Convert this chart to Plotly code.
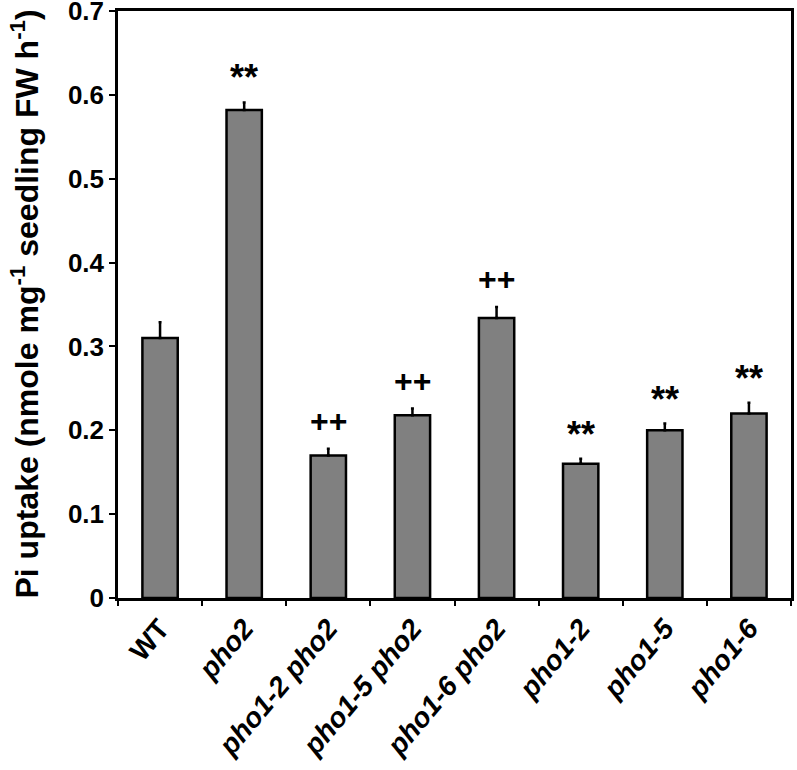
import plotly.graph_objects as go

categories = ["WT", "pho2", "pho1-2 pho2", "pho1-5 pho2", "pho1-6 pho2", "pho1-2", "pho1-5", "pho1-6"]
tick_labels = ["<b>WT</b>", "<b><i>pho2</i></b>", "<b><i>pho1-2 pho2</i></b>", "<b><i>pho1-5 pho2</i></b>",
               "<b><i>pho1-6 pho2</i></b>", "<b><i>pho1-2</i></b>", "<b><i>pho1-5</i></b>", "<b><i>pho1-6</i></b>"]
values = [0.310, 0.582, 0.170, 0.218, 0.334, 0.160, 0.200, 0.220]
errors = [0.019, 0.009, 0.008, 0.008, 0.013, 0.006, 0.008, 0.013]
marks = ["", "**", "++", "++", "++", "**", "**", "**"]
y_ticks = [0, 0.1, 0.2, 0.3, 0.4, 0.5, 0.6, 0.7]
y_tick_text = ["0", "0.1", "0.2", "0.3", "0.4", "0.5", "0.6", "0.7"]

FONT = "Liberation Sans, Arial, sans-serif"

fig = go.Figure()
fig.add_trace(go.Bar(
    x=categories, y=values,
    marker=dict(color="#808080", line=dict(color="black", width=2.5)),
    error_y=dict(type="data", symmetric=False, array=errors, arrayminus=[0]*len(errors),
                 color="black", thickness=2.5, width=1.5),
    width=0.42,
))

for c, v, e, m in zip(categories, values, errors, marks):
    if m:
        star = m == "**"
        fig.add_annotation(x=c, y=v + e, text="<b>" + m + "</b>", showarrow=False,
                           yanchor="bottom", yshift=2 if star else 8,
                           font=dict(family=FONT, size=36 if star else 32, color="black"))

fig.add_annotation(
    xref="paper", yref="paper", x=0, y=0.5, xanchor="center", yanchor="middle",
    xshift=-94, textangle=-90, showarrow=False,
    text="<b>Pi uptake (nmole mg<sup>-1</sup> seedling FW h<sup>-1</sup>)</b>",
    font=dict(family=FONT, size=32, color="black"),
)

fig.update_layout(
    width=797, height=770,
    margin=dict(l=118, r=6, t=11, b=172),
    plot_bgcolor="white", paper_bgcolor="white",
    showlegend=False,
    font=dict(family=FONT, color="black"),
)
fig.update_xaxes(
    tickmode="array", tickvals=categories, ticktext=tick_labels, tickangle=-50,
    tickfont=dict(family=FONT, size=28, color="black"),
    showline=True, linecolor="black", linewidth=2.5, mirror=True,
    ticks="outside", ticklen=5, tickwidth=1.5, tickcolor="black", tickson="boundaries",
    showgrid=False, automargin=False, ticklabeloverflow="allow",
)
fig.update_yaxes(
    range=[0, 0.7001],
    tickmode="array", tickvals=y_ticks,
    ticktext=["<b>" + t + "</b>" for t in y_tick_text],
    tickfont=dict(family=FONT, size=26, color="black"),
    showline=True, linecolor="black", linewidth=2.5, mirror=True,
    ticks="outside", ticklen=6, tickwidth=2, tickcolor="black",
    showgrid=False, zeroline=False, automargin=False, ticklabeloverflow="allow",
)

fig.write_html("out.html", config={"displayModeBar": False},
               post_script="document.body.style.margin='0';")
